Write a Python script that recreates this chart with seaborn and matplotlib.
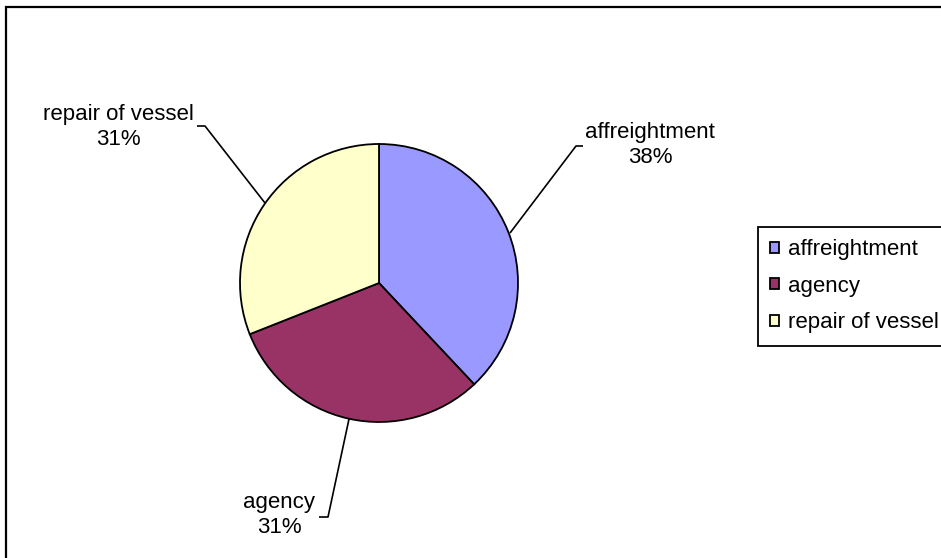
import matplotlib
matplotlib.use("Agg")
import matplotlib.pyplot as plt
import seaborn as sns

# ---- data ----
categories = ["affreightment", "agency", "repair of vessel"]
values = [38, 31, 31]
colors_hex = ["#9999FF", "#993366", "#FFFFCC"]

sns.set_style("white")
plt.rcParams['font.family'] = ['Liberation Sans', 'DejaVu Sans']
plt.rcParams['text.color'] = 'black'
palette = sns.color_palette(colors_hex)

W, H = 941, 558
fig = plt.figure(figsize=(W / 100, H / 100), dpi=100)
ax = fig.add_axes([0, 0, 1, 1])


def fy(y):
    return H - y


wedges, _ = ax.pie(values, colors=palette, startangle=90, counterclock=False,
                   center=(379, fy(283)), radius=139,
                   wedgeprops=dict(edgecolor="black", linewidth=1.3))
ax.set_xlim(0, W)
ax.set_ylim(0, H)
ax.set_aspect("equal")
ax.axis("off")

total = sum(values)
label_pos = [(650, 145), (279, 515), (118, 127)]
leaders = [
    [(510, 233), (576, 146), (583, 146)],
    [(349, 419), (328, 517), (319, 517)],
    [(265, 203), (205, 126), (197, 126)],
]
for cat, v, (lx, ly), pts in zip(categories, values, label_pos, leaders):
    ax.text(lx, fy(ly), f"{cat}\n{v / total * 100:.0f}%", ha="center", va="center",
            fontsize=16, linespacing=1.25, color="black")
    xs = [p[0] for p in pts]
    ys = [fy(p[1]) for p in pts]
    ax.plot(xs, ys, color="black", linewidth=1.2, solid_capstyle="butt")

# outer chart frame
ax.plot([6.5, 6.5, W + 10], [-10, fy(6.5), fy(6.5)], color="black",
        linewidth=1.6, clip_on=False, solid_joinstyle="miter")

leg = ax.legend(wedges, categories, loc="upper left",
                bbox_to_anchor=(758 / W, 1 - 227 / H), bbox_transform=fig.transFigure,
                borderaxespad=0, frameon=True, fancybox=False, edgecolor="black",
                framealpha=1, fontsize=16, handlelength=0.4, handleheight=0.4,
                handletextpad=0.4, labelspacing=0.7, borderpad=0.55,
                labelcolor="black")
leg.get_frame().set_linewidth(1.3)

fig.savefig("out.png", dpi=100)
